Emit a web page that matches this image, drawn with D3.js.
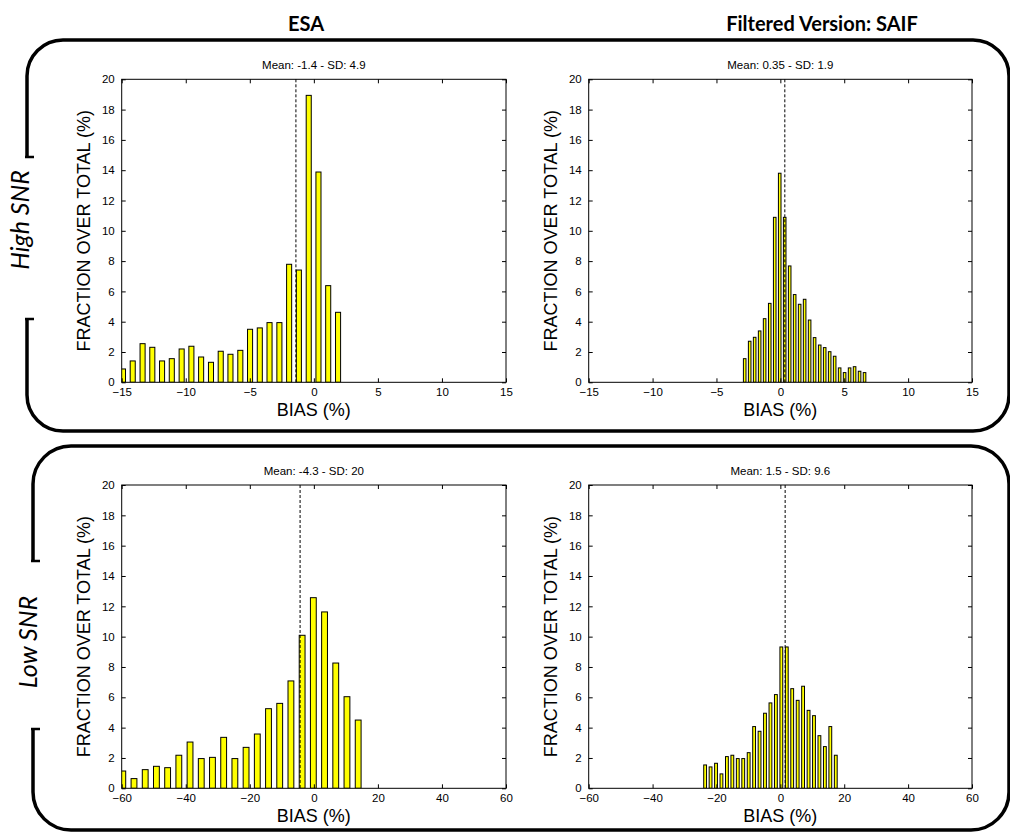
<!DOCTYPE html>
<html>
<head>
<meta charset="utf-8">
<script src="https://cdn.jsdelivr.net/npm/d3@7"></script>
<style>
  html, body { margin: 0; padding: 0; background: #fff; }
  svg { display: block; }
</style>
</head>
<body>
<svg id="chart" width="1010" height="837"></svg>
<script>
// Bias histograms: ESA vs filtered SAIF product, high and low SNR cases.
const columnTitles = ["ESA", "Filtered Version: SAIF"];
const rowLabels = ["High SNR", "Low SNR"];

// High SNR, ESA
const esaHighCenters = [-14.90, -14.14, -13.37, -12.61, -11.85, -11.09, -10.32, -9.56, -8.80, -8.03, -7.27, -6.51,
  -5.74, -4.98, -4.22, -3.46, -2.69, -1.93, -1.17, -0.40, 0.36, 1.12, 1.89];
const esaHighValues = [0.88, 1.41, 2.55, 2.31, 1.41, 1.56, 2.20, 2.38, 1.67, 1.32, 2.05, 1.85,
  2.11, 3.50, 3.59, 3.94, 3.94, 7.79, 7.41, 18.94, 13.88, 6.38, 4.62];

// High SNR, SAIF
const saifHighCenters = [-2.79, -2.40, -2.01, -1.62, -1.23, -0.83, -0.44, -0.05, 0.34, 0.73, 1.12, 1.51, 1.90,
  2.29, 2.68, 3.08, 3.47, 3.86, 4.25, 4.64, 5.03, 5.42, 5.81, 6.20, 6.59];
const saifHighValues = [1.56, 2.71, 2.97, 3.39, 4.20, 5.21, 10.89, 13.80, 10.89, 7.68, 5.79, 5.15, 5.48,
  4.11, 2.95, 2.46, 2.29, 2.02, 1.72, 0.95, 0.64, 0.95, 1.03, 0.73, 0.64];

// Low SNR, ESA
const esaLowCenters = [-59.66, -56.16, -52.66, -49.16, -45.66, -42.16, -38.66, -35.16, -31.66, -28.16, -24.66,
  -21.16, -17.66, -14.16, -10.66, -7.16, -3.66, -0.16, 3.34, 6.84, 10.34, 13.84];
const esaLowValues = [1.14, 0.64, 1.23, 1.45, 1.36, 2.18, 3.05, 1.96, 2.04, 3.36, 1.96,
  2.70, 3.58, 5.25, 5.60, 7.08, 10.09, 12.57, 11.63, 8.26, 6.04, 4.50];

// Low SNR, SAIF
const saifLowCenters = [-23.55, -21.85, -20.14, -18.44, -16.73, -15.03, -13.33, -11.62, -9.92, -8.21, -6.51, -4.81,
  -3.10, -1.40, 0.31, 2.01, 3.71, 5.42, 7.12, 8.83, 10.53, 12.23, 13.94, 15.64, 17.35];
const saifLowValues = [1.54, 1.41, 1.65, 0.95, 2.09, 2.18, 1.96, 1.96, 2.35, 4.07, 3.76, 4.95,
  5.63, 6.18, 9.32, 9.32, 6.57, 5.80, 6.73, 5.14, 4.79, 3.47, 2.75, 4.07, 2.18];

const means = [-1.4, 0.35, -4.3, 1.5];
const sds = ["4.9", "1.9", "20", "9.6"];
const meanLabels = ["-1.4", "0.35", "-4.3", "1.5"];

const highXTicks = [-15, -10, -5, 0, 5, 10, 15];
const lowXTicks = [-60, -40, -20, 0, 20, 40, 60];
const yTicks = [0, 2, 4, 6, 8, 10, 12, 14, 16, 18, 20];

const xLabel = "BIAS (%)";
const yLabel = "FRACTION OVER TOTAL (%)";

const panels = [
  { centers: esaHighCenters, values: esaHighValues, ticks: highXTicks, col: 0, row: 0 },
  { centers: saifHighCenters, values: saifHighValues, ticks: highXTicks, col: 1, row: 0 },
  { centers: esaLowCenters, values: esaLowValues, ticks: lowXTicks, col: 0, row: 1 },
  { centers: saifLowCenters, values: saifLowValues, ticks: lowXTicks, col: 1, row: 1 }
];

// layout
const colX = [[121.7, 506], [588.7, 972]];
const rowY = [[79.3, 382.3], [485, 788.3]];
const headerX = [306, 822];
const FONT = "'Liberation Sans', Arial, sans-serif";

const svg = d3.select("#chart");

// rounded bracket frames around each row, open on the left where the row label sits
const frames = [
  { x0: 27, x1: 1009, y0: 40, y1: 431, r: 36, gap: [157, 319], labelX: 29, labelY: 220 },
  { x0: 33, x1: 1009, y0: 446, y1: 830, r: 38, gap: [561, 729], labelX: 37, labelY: 642 }
];
frames.forEach((f, i) => {
  const p = d3.path();
  p.moveTo(f.x0, f.gap[0]);
  p.lineTo(f.x0, f.y0 + f.r);
  p.arcTo(f.x0, f.y0, f.x0 + f.r, f.y0, f.r);
  p.lineTo(f.x1 - f.r, f.y0);
  p.arcTo(f.x1, f.y0, f.x1, f.y0 + f.r, f.r);
  p.lineTo(f.x1, f.y1 - f.r);
  p.arcTo(f.x1, f.y1, f.x1 - f.r, f.y1, f.r);
  p.lineTo(f.x0 + f.r, f.y1);
  p.arcTo(f.x0, f.y1, f.x0, f.y1 - f.r, f.r);
  p.lineTo(f.x0, f.gap[1]);
  svg.append("path").attr("d", p.toString())
    .attr("fill", "none").attr("stroke", "#000").attr("stroke-width", 3.5);
  // small end caps of the bracket
  [f.gap[0], f.gap[1]].forEach(yy => {
    svg.append("line").attr("x1", f.x0 - 2).attr("x2", f.x0 + 7)
      .attr("y1", yy).attr("y2", yy).attr("stroke", "#000").attr("stroke-width", 2.5);
  });
  svg.append("text")
    .attr("transform", `translate(${f.labelX},${f.labelY}) rotate(-90)`)
    .attr("text-anchor", "middle")
    .attr("font-family", "Lato, 'Open Sans', sans-serif").attr("font-style", "italic")
    .attr("font-size", 25).text(rowLabels[i]);
});

// column headers
columnTitles.forEach((t, i) => {
  svg.append("text")
    .attr("x", headerX[i]).attr("y", 31)
    .attr("text-anchor", "middle")
    .attr("font-family", "Lato, 'Open Sans', sans-serif").attr("font-weight", "bold")
    .attr("font-size", 20).text(t);
});

const defs = svg.append("defs");

panels.forEach((pn, k) => {
  const [x0, x1] = colX[pn.col];
  const [y0, y1] = rowY[pn.row];
  const x = d3.scaleLinear().domain([pn.ticks[0], pn.ticks[pn.ticks.length - 1]]).range([x0, x1]);
  const y = d3.scaleLinear().domain([0, 20]).range([y1, y0]);
  const g = svg.append("g");

  defs.append("clipPath").attr("id", "clip" + k)
    .append("rect").attr("x", x0).attr("y", y0).attr("width", x1 - x0).attr("height", y1 - y0);

  const step = pn.centers[1] - pn.centers[0];
  const halfW = step * 0.26;
  g.append("g").attr("clip-path", `url(#clip${k})`)
    .selectAll("rect").data(pn.values).join("rect")
    .attr("x", (d, i) => x(pn.centers[i] - halfW))
    .attr("width", (d, i) => x(pn.centers[i] + halfW) - x(pn.centers[i] - halfW))
    .attr("y", d => y(d))
    .attr("height", d => y(0) - y(d))
    .attr("fill", "#ffff00").attr("stroke", "#000").attr("stroke-width", 1);

  // axes: ticks pointing inward on all four sides
  const axB = d3.axisBottom(x).tickValues(pn.ticks).tickSize(-4).tickPadding(7);
  const axT = d3.axisTop(x).tickValues(pn.ticks).tickSize(-4).tickFormat("");
  const axL = d3.axisLeft(y).tickValues(yTicks).tickSize(-4).tickPadding(7);
  const axR = d3.axisRight(y).tickValues(yTicks).tickSize(-4).tickFormat("");
  const style = sel => {
    sel.selectAll("path").attr("stroke", "#000").attr("stroke-width", 1);
    sel.selectAll("line").attr("stroke", "#000").attr("stroke-width", 1);
    sel.selectAll("text").attr("font-family", FONT).attr("font-size", 11.5).attr("fill", "#000");
    sel.attr("font-family", null).attr("font-size", null);
  };
  g.append("g").attr("transform", `translate(0,${y1})`).call(axB).call(style)
    .selectAll("text").attr("dy", "0.55em");
  g.append("g").attr("transform", `translate(0,${y0})`).call(axT).call(style);
  g.append("g").attr("transform", `translate(${x0},0)`).call(axL).call(style);
  g.append("g").attr("transform", `translate(${x1},0)`).call(axR).call(style);
  g.selectAll(".domain").attr("d", null);
  g.append("rect").attr("x", x0).attr("y", y0).attr("width", x1 - x0).attr("height", y1 - y0)
    .attr("fill", "none").attr("stroke", "#000").attr("stroke-width", 1);

  // mean marker
  g.append("line")
    .attr("x1", x(means[k])).attr("x2", x(means[k]))
    .attr("y1", y(20)).attr("y2", y(0))
    .attr("stroke", "#000").attr("stroke-width", 1).attr("stroke-dasharray", "3,2");

  // panel title
  g.append("text")
    .attr("x", (x0 + x1) / 2).attr("y", y0 - 10)
    .attr("text-anchor", "middle").attr("font-family", FONT).attr("font-size", 11.5)
    .text(`Mean: ${meanLabels[k]} - SD: ${sds[k]}`);

  // axis labels
  g.append("text")
    .attr("x", (x0 + x1) / 2).attr("y", y1 + 34)
    .attr("text-anchor", "middle").attr("font-family", FONT).attr("font-size", 18)
    .text(xLabel);
  g.append("text")
    .attr("transform", `translate(${x0 - 38},${(y0 + y1) / 2}) rotate(-90)`)
    .attr("text-anchor", "middle").attr("dominant-baseline", "central")
    .attr("font-family", FONT).attr("font-size", 18)
    .text(yLabel);
});
</script>
</body>
</html>
